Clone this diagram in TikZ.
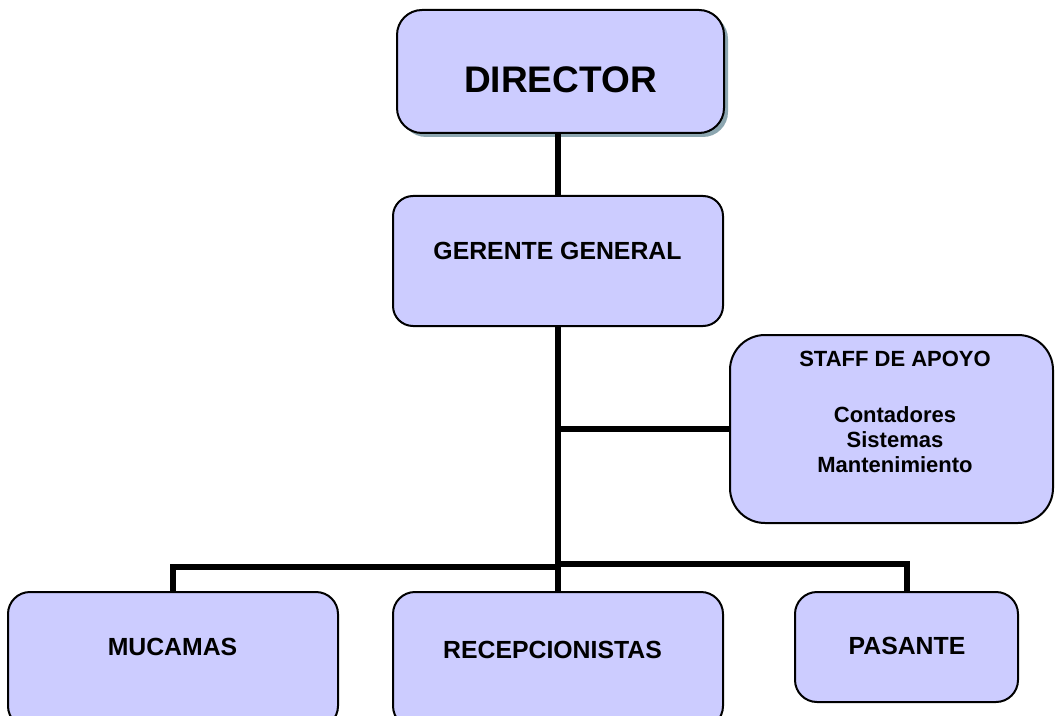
\documentclass[tikz,border=0pt]{standalone}
\usepackage{fontspec}
\setmainfont{Liberation Sans}
\usetikzlibrary{shadows}

\definecolor{boxfill}{RGB}{204,204,255}
\definecolor{shadowcol}{RGB}{140,166,176}

\tikzset{
  orgbox/.style={draw=black, line width=1.5pt, fill=boxfill, inner sep=0pt},
  label text/.style={anchor=base, inner sep=0pt, font=\bfseries\fontsize{18.6}{22}\selectfont},
  link/.style={draw=black, line width=4.5pt, line join=miter, line cap=butt}
}

\begin{document}
\begin{tikzpicture}[x=0.75pt, y=-0.75pt]
  \useasboundingbox (0,0) rectangle (1055,716);
  \clip (0,0) rectangle (1055,716);

  % boxes
  \node[orgbox, minimum width=245.25pt, minimum height=92.25pt, rounded corners=18.75pt,
        drop shadow={shadow xshift=3pt, shadow yshift=-3pt, fill=shadowcol, opacity=1}]
        (dir) at (560.5,71.5) {};
  \node[orgbox, minimum width=247.5pt, minimum height=97.5pt, rounded corners=15pt]
        (gg) at (558,261) {};
  \node[orgbox, minimum width=242.25pt, minimum height=141pt, rounded corners=26.25pt]
        (staff) at (891.5,429) {};
  \node[orgbox, minimum width=247.5pt, minimum height=102pt, rounded corners=16.5pt]
        (muc) at (173,660) {};
  \node[orgbox, minimum width=247.5pt, minimum height=102pt, rounded corners=16.5pt]
        (rec) at (558,660) {};
  \node[orgbox, minimum width=167.25pt, minimum height=82.5pt, rounded corners=16.5pt]
        (pas) at (906.5,647) {};

  % texts (multi-line block is placed by the baseline of its last line)
  \node[label text, font=\bfseries\fontsize{27.75}{32}\selectfont] (tdir) at (560.5,93) {DIRECTOR};
  \node[label text] (tgg) at (557.5,260) {GERENTE GENERAL};
  \node[label text, align=center, font=\bfseries\fontsize{16.5}{18.75}\selectfont] (tstaff) at (895,472)
        {STAFF DE APOYO\\[23.25pt]Contadores\\Sistemas\\Mantenimiento};
  \node[label text] (tmuc) at (172.5,655) {MUCAMAS};
  \node[label text] (trec) at (552.5,658) {RECEPCIONISTAS};
  \node[label text] (tpas) at (907,654) {PASANTE};

  % branching points
  \coordinate (leftjoin) at (558,567);
  \coordinate (rightjoin) at (558,563.5);

  % connectors
  \draw[link] (gg.north) -- (gg.north |- dir.south);
  \draw[link] (gg.south) -- (rec.north);
  \draw[link] (staff.west -| gg.south) -- (staff.west);
  \draw[link] (leftjoin) -- (leftjoin -| muc.north) -- (muc.north);
  \draw[link] (rightjoin) -- (rightjoin -| pas.north) -- (pas.north);
\end{tikzpicture}
\end{document}
